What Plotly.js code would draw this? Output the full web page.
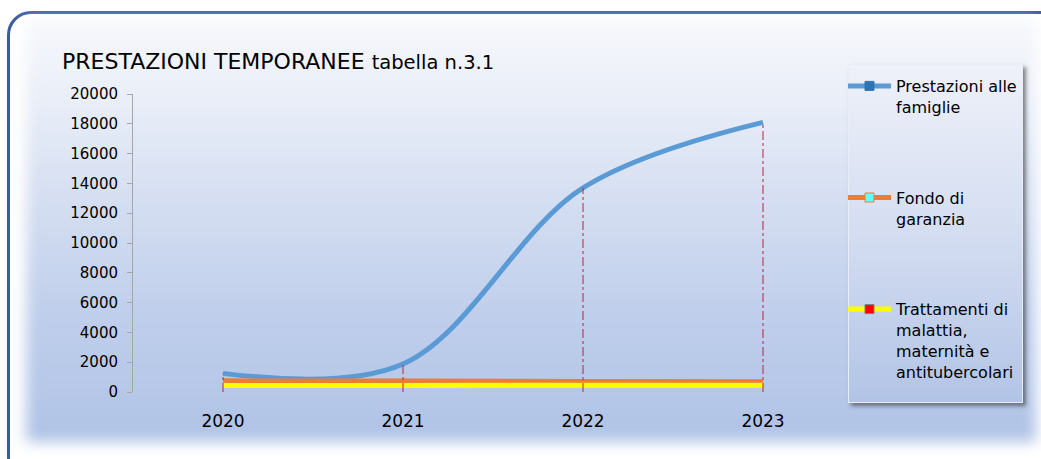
<!DOCTYPE html>
<html>
<head>
<meta charset="utf-8">
<script src="https://cdn.plot.ly/plotly-3.0.1.min.js"></script>
<style>
  html, body { margin:0; padding:0; background:#ffffff; }
  #wrap { position:relative; width:1041px; height:459px; overflow:hidden; background:#ffffff; }
  #frame { position:absolute; left:7px; top:11px; width:1100px; height:470px; border:3px solid #3A5DA0; border-radius:24px; box-sizing:border-box; background:#ffffff; }
  #glow { position:absolute; left:26px; top:20px; width:1010px; height:422px;
          background:linear-gradient(to bottom, #F7F8FC 0%, #E8EDF7 20%, #D3DDF1 45%, #BFCEEB 70%, #B0C3E6 100%);
          filter:blur(7px); }
  #legbox { position:absolute; left:848px; top:64px; width:175px; height:339px;
            background:linear-gradient(to bottom, #EEF1F9 0%, #D4DDF1 50%, #B2C4E6 100%);
            border:1px solid #E8EDF7; box-sizing:border-box;
            box-shadow:3px 3px 4px rgba(40,40,40,0.55); }
  #chart { position:absolute; left:0; top:0; width:1041px; height:459px; }
</style>
</head>
<body>
<div id="wrap">
  <div id="frame"></div>
  <div id="glow"></div>
  <div id="legbox"></div>
  <div id="chart"></div>
</div>
<script>
const years = ["2020", "2021", "2022", "2023"];
const prestazioniFamiglie = [1250, 1880, 13700, 18100];
const fondoGaranzia = [750, 730, 710, 690];
const trattamentiMalattia = [430, 440, 450, 460];
const seriesNames = [
  "Prestazioni alle<br>famiglie",
  "Fondo di<br>garanzia",
  "Trattamenti di<br>malattia,<br>maternità e<br>antitubercolari"
];
const yTicks = [0, 2000, 4000, 6000, 8000, 10000, 12000, 14000, 16000, 18000, 20000];

const lineColors = ["#5B9BD5", "#ED7D31", "#FFFF00"];
const markerFill = ["#2E75B6", "#66FFFF", "#FF0000"];
const markerLine = ["#2E75B6", "#ED7D31", "#7F7F7F"];
const allSeries = [prestazioniFamiglie, fondoGaranzia, trattamentiMalattia];

const traces = [];
allSeries.forEach((vals, i) => {
  traces.push({
    type: "scatter", mode: "lines", x: years, y: vals,
    line: { color: lineColors[i], width: 5, shape: "spline", smoothing: 1 },
    showlegend: false, hoverinfo: "skip"
  });
});
// drop lines from highest value to axis
const dx = [], dy = [];
years.forEach((yr, i) => {
  const top = Math.max(...allSeries.map(s => s[i]));
  dx.push(yr, yr, null);
  dy.push(0, top, null);
});
traces.push({
  type: "scatter", mode: "lines", x: dx, y: dy,
  line: { color: "#B2263A", width: 1, dash: "dashdot" },
  showlegend: false, hoverinfo: "skip"
});
// legend entries
allSeries.forEach((vals, i) => {
  traces.push({
    type: "scatter", mode: "lines+markers", x: [null], y: [null],
    name: seriesNames[i], legendgroup: "g" + i,
    line: { color: lineColors[i], width: 5 },
    marker: { symbol: "square", size: 9, color: markerFill[i], line: { color: markerLine[i], width: 1 } }
  });
});

const layout = {
  width: 1041, height: 459,
  margin: { l: 133, r: 188, t: 94, b: 67, pad: 0, autoexpand: false },
  paper_bgcolor: "rgba(0,0,0,0)",
  plot_bgcolor: "rgba(0,0,0,0)",
  font: { family: "DejaVu Sans, Verdana, sans-serif", color: "#000000" },
  title: {
    text: "PRESTAZIONI TEMPORANEE <span style='font-size:19.5px'>tabella n.3.1</span>",
    font: { size: 22, family: "DejaVu Sans, Verdana, sans-serif", color: "#000000" },
    xref: "container", yref: "container", x: 62 / 1041, xanchor: "left",
    y: 1 - 61 / 459, yanchor: "middle"
  },
  xaxis: {
    type: "category", categoryorder: "array", categoryarray: years,
    range: [-0.5, 3.5], showline: false, showgrid: false, zeroline: false,
    ticks: "", tickfont: { size: 17, family: "DejaVu Sans, Verdana, sans-serif" },
    ticklabelstandoff: 17
  },
  yaxis: {
    range: [0, 20000], tickvals: yTicks, ticktext: yTicks.map(String),
    showline: true, linecolor: "#A6A6A6", linewidth: 1,
    ticks: "outside", ticklen: 5, tickcolor: "#A6A6A6",
    showgrid: false, zeroline: false,
    tickfont: { size: 15, family: "DejaVu Sans, Verdana, sans-serif" },
    ticklabelstandoff: 6
  },
  legend: {
    xref: "container", yref: "container",
    x: 843 / 1041, xanchor: "left", y: 1 - 69 / 459, yanchor: "top",
    bgcolor: "rgba(0,0,0,0)", borderwidth: 0,
    font: { size: 16, family: "DejaVu Sans, Verdana, sans-serif", color: "#000000" },
    valign: "top", itemwidth: 43, tracegroupgap: 67, traceorder: "grouped",
    maxheight: 420
  },
  showlegend: true
};

Plotly.newPlot("chart", traces, layout, { displayModeBar: false, staticPlot: true });
</script>
</body>
</html>
